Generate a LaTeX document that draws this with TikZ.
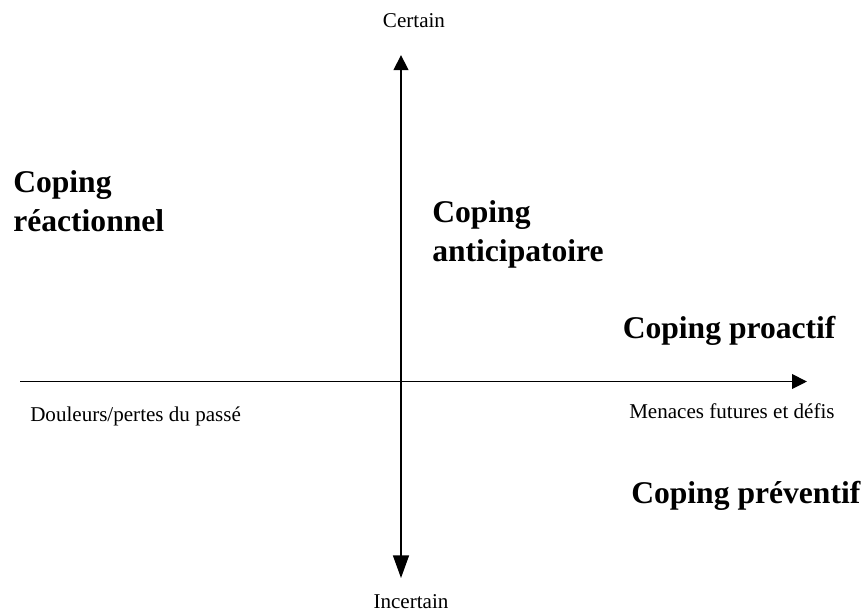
\documentclass[tikz,border=0pt]{standalone}
\usepackage{fontspec}
\setmainfont{Liberation Serif}
\usetikzlibrary{arrows.meta, positioning}

\begin{document}
\begin{tikzpicture}[
    x=0.75pt, y=-0.75pt,
    axis/.style={line width=1.1pt, -{Triangle[length=11.25pt, width=11pt]}},
    small/.style={inner sep=0pt, font=\fontsize{15.8}{19}\selectfont},
    coping/.style={inner sep=0pt, anchor=base west, align=left,
                   font=\fontsize{23.7}{29.25}\selectfont\bfseries}
]
    \useasboundingbox (0,0) rectangle (865,612);

    % axes
    \coordinate (west)  at (20,381.5);
    \coordinate (east)  at (807,381.5);
    \coordinate (north) at (401,55);
    \coordinate (south) at (401,578);
    \coordinate (origin) at (401,381.5);

    \draw[axis] (west) -- (east);
    \draw[axis] (origin) -- (north);
    \draw[line width=1.1pt, -{Triangle[length=17pt, width=12pt]}] (origin) -- (south);

    % axis labels
    \node[small, anchor=base] (certain)   at (414,27)    {Certain};
    \node[small, anchor=base] (incertain) at (411,608)   {Incertain};
    \node[small, anchor=base west] (past)   at (30,421.5) {Douleurs/pertes du passé};
    \node[small, anchor=base west] (future) at (629,418)  {Menaces futures et défis};

    % types of coping
    \node[coping] (reactionnel)  at (13,231)  {Coping\\réactionnel};
    \node[coping] (anticipatoire) at (432,261.5) {Coping\\anticipatoire};
    \node[coping] (proactif)     at (622.5,338) {Coping proactif};
    \node[coping] (preventif)    at (631,503)  {Coping préventif};
\end{tikzpicture}
\end{document}
